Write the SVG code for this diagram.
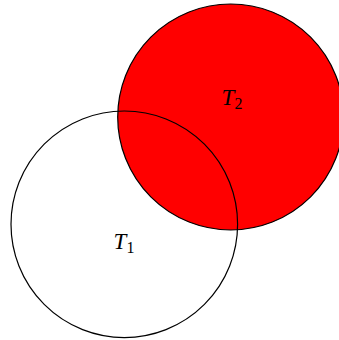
<svg xmlns="http://www.w3.org/2000/svg" width="339" height="340" viewBox="0 0 339 340">
<style>
.c{stroke:#000;stroke-width:1.2}
.t{font-family:"Liberation Serif","DejaVu Serif",serif;font-size:23px;fill:#000}
.s{font-style:normal;font-size:16px}
</style>
<rect width="339" height="340" fill="#fff"/>
<g id="T2">
<circle class="c" cx="230.7" cy="117" r="113" fill="#ff0000"/>
<text class="t" x="232" y="105" text-anchor="middle"><tspan font-style="italic">T</tspan><tspan class="s" dy="4">2</tspan></text>
</g>
<g id="T1">
<circle class="c" cx="124.3" cy="224.3" r="113.3" fill="none"/>
<text class="t" x="124" y="249" text-anchor="middle"><tspan font-style="italic">T</tspan><tspan class="s" dy="4">1</tspan></text>
</g>
<g id="connectors"/>
</svg>
